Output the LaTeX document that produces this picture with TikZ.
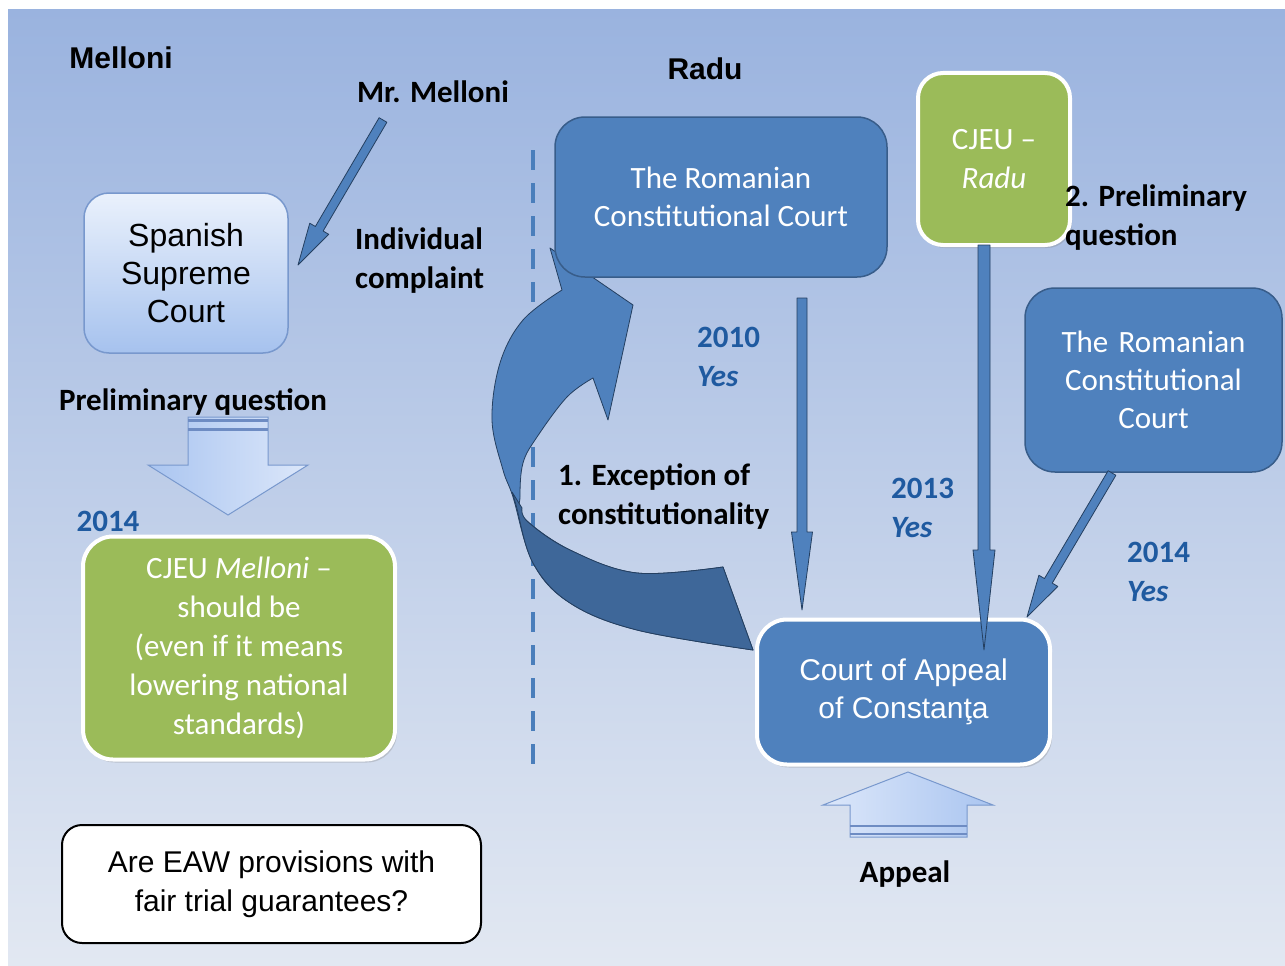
\documentclass[tikz,border=0pt]{standalone}
\usepackage{fontspec}
\setmainfont{Carlito}
\newfontfamily\arialf{Liberation Sans}
\usetikzlibrary{calc,shadows}
\definecolor{bgtop}{RGB}{154,179,223}
\definecolor{bgbot}{RGB}{226,232,242}
\definecolor{boxblue}{RGB}{79,129,189}
\definecolor{boxedge}{RGB}{56,93,138}
\definecolor{darkedge}{RGB}{36,63,96}
\definecolor{greenbox}{RGB}{155,187,89}
\definecolor{yearblue}{RGB}{31,90,160}
\definecolor{lighttop}{RGB}{234,241,252}
\definecolor{lightbot}{RGB}{166,194,238}
\definecolor{lightedge}{RGB}{120,152,205}
\definecolor{foldblue}{RGB}{62,103,153}
\definecolor{dashblue}{RGB}{74,126,187}
\definecolor{arrlight}{RGB}{220,231,250}
\definecolor{arrdark}{RGB}{170,197,240}
\definecolor{stripec}{RGB}{110,140,195}

\newcommand\blockarrow[5]{%
  \coordinate (ba-h) at ($(#2)!#5!(#1)$);
  \filldraw[fill=boxblue, draw=darkedge, line width=0.8, line join=round]
    ($(#1)!#3!90:(#2)$) -- ($(ba-h)!#3!-90:(#1)$) -- ($(ba-h)!#4!-90:(#1)$)
    -- (#2) -- ($(ba-h)!#4!90:(#1)$) -- ($(ba-h)!#3!90:(#1)$)
    -- ($(#1)!#3!-90:(#2)$) -- cycle;
}

\begin{document}
\begin{tikzpicture}[x=1pt,y=-1pt,
  lightbox/.style={rounded corners=25, top color=lighttop, bottom color=lightbot,
    draw=lightedge, line width=1.5, align=center, inner sep=0,
    font=\arialf\fontsize{32}{38}\selectfont, text=black},
  greenbx/.style={rounded corners=30, fill=greenbox, draw=white, line width=4,
    align=center, inner sep=0, text=white, font=\fontsize{31}{39}\selectfont,
    drop shadow={opacity=0.3, shadow xshift=2pt, shadow yshift=-3pt}},
  bluebx/.style={rounded corners=30, fill=boxblue, draw=boxedge, line width=1.5,
    align=center, inner sep=0, text=white, font=\fontsize{31}{38}\selectfont},
  whitebx/.style={rounded corners=20, fill=white, draw=black, line width=2,
    align=center, inner sep=0, font=\arialf\fontsize{30}{39}\selectfont},
  lbl/.style={font=\fontsize{31}{39}\selectfont\bfseries, text=black, inner sep=0, align=left},
  yr/.style={font=\fontsize{31}{39}\selectfont\bfseries, text=yearblue, inner sep=0, align=left},
  ttl/.style={font=\arialf\bfseries\fontsize{30}{36}\selectfont, text=black, inner sep=0}
]
\useasboundingbox (0,0) rectangle (1285,966);
\fill[white] (0,0) rectangle (1285,966);
\shade[top color=bgtop, bottom color=bgbot] (8,10) rectangle (1285,966);

% separator
\draw[dashblue, line width=4, dash pattern=on 20 off 13] (533,150) -- (533,772);

% curved arrow (exception of constitutionality)
\filldraw[fill=boxblue, draw=darkedge, line width=0.8, line join=round]
  (550,248) -- (633,305) -- (608,420) --
  plot[smooth, tension=0.6] coordinates {(593,378) (567,397) (537,437) (523,463) (520,497) (523,517) (570,550) (637,573) (723,567)}
  -- (753,650) --
  plot[smooth, tension=0.6] coordinates {(753,650) (637,630) (570,603) (533,563) (513,497) (503,470) (492,420) (500,363) (523,320) (562,290)}
  -- cycle;
\filldraw[fill=foldblue, draw=darkedge, line width=0.8, line join=round]
  (512,492) -- 
  plot[smooth, tension=0.6] coordinates {(522,508) (528,522) (570,550) (637,573) (723,567)}
  -- (753,650) --
  plot[smooth, tension=0.6] coordinates {(753,650) (637,630) (570,603) (533,563) (516,505) (512,492)}
  -- cycle;

% boxes
\node[lightbox, minimum width=204, minimum height=160] (ssc) at (186,273) {Spanish\\Supreme\\Court};
\node[greenbx, minimum width=312, minimum height=223] (cjm) at (239,648)
  {CJEU \textit{Melloni} –\\should be\\(even if it means\\lowering national\\standards)};
\node[whitebx, minimum width=419, minimum height=118] (eaw) at (271.5,884)
  {Are EAW provisions with\\fair trial guarantees?};
\node[bluebx, minimum width=332, minimum height=160] (rcc1) at (721,197)
  {The Romanian\\Constitutional Court};
\node[greenbx, minimum width=152, minimum height=172, rounded corners=25] (cjr) at (994,159)
  {CJEU –\\\textit{Radu}};
\node[bluebx, minimum width=257, minimum height=184, text width=257, align=center] (rcc2) at (1153.5,380)
  {The Romanian\\Constitutional\\Court};
\node[bluebx, draw=white, line width=4, minimum width=293, minimum height=145,
  font=\arialf\fontsize{30}{38}\selectfont,
  drop shadow={opacity=0.3, shadow xshift=2pt, shadow yshift=-3pt}] (coa) at (903.5,692)
  {Court of Appeal\\of Constanţa};

% arrow end points
\coordinate (mm1) at (383,120);
\coordinate (mm2) at (298,265);
\coordinate (y10a) at (802,298);
\coordinate (y10b) at (802,610);
\coordinate (y13a) at (984,245);
\coordinate (y13b) at (984,650);
\coordinate (y14a) at (1112,473);
\coordinate (y14b) at (1027,617);

\blockarrow{mm1}{mm2}{4.5pt}{11pt}{42pt}
\blockarrow{y10a}{y10b}{5pt}{10.5pt}{78pt}
\blockarrow{y13a}{y13b}{6pt}{11pt}{100pt}
\blockarrow{y14a}{y14b}{4.5pt}{11pt}{42pt}

% preliminary question block arrow (down)
\shade[left color=arrdark, right color=arrlight, draw=lightedge, line width=1]
  (188,417) -- (268,417) -- (268,465) -- (308,465) -- (228,515) -- (148,465) -- (188,465) -- cycle;
\draw[stripec, line width=2.5] (188,420.5) -- (268,420.5);
\draw[stripec, line width=2.5] (188,429.5) -- (268,429.5);

% appeal block arrow (up)
\shade[left color=arrlight, right color=arrdark, draw=lightedge, line width=1]
  (908,772) -- (993,805) -- (967,805) -- (967,837) -- (850,837) -- (850,805) -- (823,805) -- cycle;
\draw[stripec, line width=2.5] (850,826) -- (967,826);
\draw[stripec, line width=2.5] (850,834) -- (967,834);

% labels
\node[ttl] (tmel) at (121,58) {Melloni};
\node[ttl] (trad) at (705,69) {Radu};
\node[lbl] (lmr) at (433,92) {Mr. Melloni};
\node[lbl, anchor=west] (lind) at (355,261) {Individual\\complaint};
\node[lbl] (lpq) at (193,402) {Preliminary question};
\node[yr] (l14a) at (108,521) {2014};
\node[lbl, anchor=west] (lexc) at (558,497) {1. Exception of\\constitutionality};
\node[lbl, anchor=west] (lpq2) at (1065,218) {2. Preliminary\\question};
\node[yr, anchor=west] (l10) at (697,357) {2010\\\textit{Yes}};
\node[yr, anchor=west] (l13) at (891,508) {2013\\\textit{Yes}};
\node[yr, anchor=west] (l14b) at (1127,572) {2014\\\textit{Yes}};
\node[lbl] (lapp) at (905,874) {Appeal};
\end{tikzpicture}
\end{document}
